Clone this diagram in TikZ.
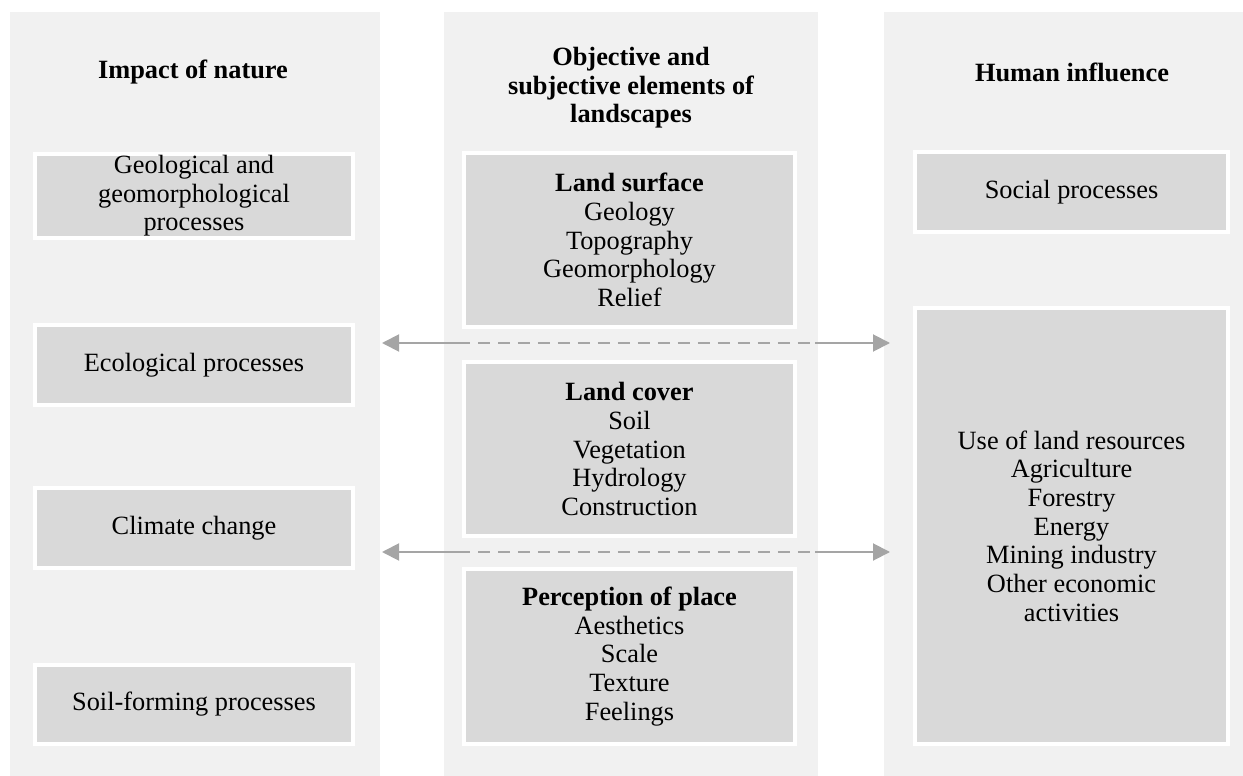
\documentclass[tikz,border=0pt]{standalone}
\usepackage{fontspec}
\setmainfont{Liberation Serif}
\usetikzlibrary{arrows.meta}
\definecolor{panelgrey}{RGB}{241,241,241}
\definecolor{cellgrey}{RGB}{217,217,217}
\definecolor{linkgrey}{RGB}{165,165,165}
\tikzset{
  cell/.style={fill=cellgrey, draw=white, line width=2.3pt, inner sep=0pt, align=center,
    font=\fontsize{15}{16.3}\selectfont},
  head/.style={align=center, font=\fontsize{15}{16.3}\selectfont\bfseries},
  link/.style={draw=linkgrey, line width=1.1pt},
  tip/.style={-{Triangle[length=0.34cm,width=0.34cm]}},
}

\begin{document}
\begin{tikzpicture}[x=0.02cm, y=-0.02cm]
\useasboundingbox (0,0) rectangle (1243,776);
% three columns
\fill[panelgrey] (10,12) rectangle (380,776);
\fill[panelgrey] (444,12) rectangle (818,776);
\fill[panelgrey] (884,12) rectangle (1243,776);

\node[head] (nature) at (193,72) {Impact of nature};
\node[head] (elements) at (631,88) {Objective and\\subjective elements of\\landscapes};
\node[head] (human) at (1072,72) {Human influence};

% impact of nature
\node[cell, minimum width=6.36cm, minimum height=1.68cm] (geo) at (194,196)
  {Geological and\\geomorphological\\processes};
\node[cell, minimum width=6.36cm, minimum height=1.60cm] (eco) at (194,365) {Ecological processes};
\node[cell, minimum width=6.36cm, minimum height=1.60cm] (clim) at (194,528) {Climate change};
\node[cell, minimum width=6.36cm, minimum height=1.58cm] (soil) at (194,704.5) {Soil-forming processes};

% elements of landscapes
\node[cell, minimum width=6.62cm, minimum height=3.48cm] (surf) at (629.5,240)
  {\textbf{Land surface}\\Geology\\Topography\\Geomorphology\\Relief};
\node[cell, minimum width=6.62cm, minimum height=3.48cm] (cover) at (629.5,449)
  {\textbf{Land cover}\\Soil\\Vegetation\\Hydrology\\Construction};
\node[cell, minimum width=6.62cm, minimum height=3.50cm] (perc) at (629.5,656.5)
  {\textbf{Perception of place}\\Aesthetics\\Scale\\Texture\\Feelings};

% human influence
\node[cell, minimum width=6.26cm, minimum height=1.60cm] (social) at (1071.5,192) {Social processes};
\node[cell, minimum width=6.26cm, minimum height=8.72cm] (use) at (1071.5,526)
  {Use of land resources\\Agriculture\\Forestry\\Energy\\Mining industry\\Other economic\\activities};

% links between the columns
\coordinate (up l) at (382,343);
\coordinate (up dl) at (458,343);
\coordinate (up dr) at (815,343);
\coordinate (up r) at (890,343);
\coordinate (lo l) at (382,552);
\coordinate (lo dl) at (458,552);
\coordinate (lo dr) at (815,552);
\coordinate (lo r) at (890,552);
\draw[link, tip] (up dl) -- (up l);
\draw[link, dash pattern=on 0.24cm off 0.16cm] (up dl) -- (up dr);
\draw[link, tip] (up dr) -- (up r);
\draw[link, tip] (lo dl) -- (lo l);
\draw[link, dash pattern=on 0.24cm off 0.16cm] (lo dl) -- (lo dr);
\draw[link, tip] (lo dr) -- (lo r);
\end{tikzpicture}
\end{document}
